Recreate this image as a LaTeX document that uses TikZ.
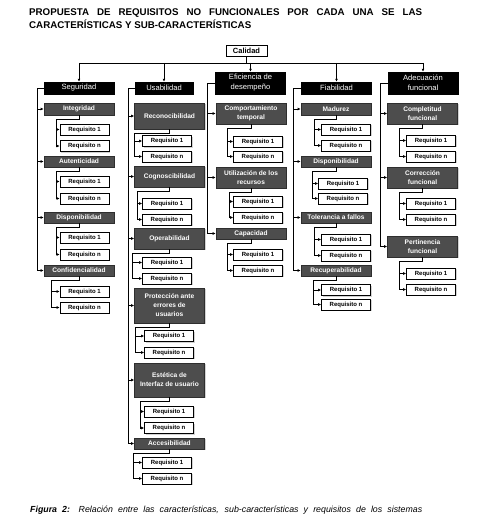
\documentclass[tikz,border=0pt]{standalone}
\usepackage{fontspec}
\setmainfont{Liberation Sans}
\usetikzlibrary{arrows.meta, shadows}
\definecolor{boxGray}{HTML}{4D4D4D}
\definecolor{boxEdge}{HTML}{2E2E2E}
\definecolor{shadowGray}{HTML}{A8A8A8}

\begin{document}
\begin{tikzpicture}[x=1pt, y=-1pt,
    titleText/.style={anchor=north west, inner sep=0pt, text width=393pt, align=justify, font=\fontsize{9.75}{13}\selectfont\bfseries},
    captionText/.style={anchor=base west, inner sep=0pt, font=\fontsize{8.8}{10}\selectfont\itshape},
    topBox/.style={draw=black, line width=0.7pt, rectangle, fill=white, font=\fontsize{7.5}{9}\selectfont\bfseries, inner sep=0pt, minimum width=41pt, minimum height=11pt, drop shadow={shadow xshift=1.2pt, shadow yshift=-1.2pt, fill=shadowGray}},
    catBox/.style={draw=black, rectangle, fill=black, text=white, align=center, font=\fontsize{7.6}{10}\selectfont, inner sep=0pt, minimum width=70pt, minimum height=12pt},
    subBox/.style={draw=boxEdge, line width=0.6pt, rectangle, fill=boxGray, text=white, align=center, font=\fontsize{6.6}{9}\selectfont\bfseries, inner sep=0pt, minimum width=70pt, minimum height=11pt, drop shadow={shadow xshift=1.3pt, shadow yshift=-1.3pt, fill=shadowGray}},
    reqBox/.style={draw=black, line width=0.6pt, rectangle, fill=white, font=\fontsize{6}{7}\selectfont\bfseries, inner sep=0pt, minimum width=49pt, minimum height=11pt, drop shadow={shadow xshift=1.2pt, shadow yshift=-1.2pt, fill=shadowGray}},
    trunk/.style={line width=0.7pt},
    link/.style={line width=0.7pt, -{Latex[length=3pt, width=2.8pt]}},
]
\useasboundingbox (0,0) rectangle (479,516);

\node[titleText] (title) at (29,8) {PROPUESTA DE REQUISITOS NO FUNCIONALES POR CADA UNA SE LAS\linebreak CARACTERÍSTICAS Y SUB-CARACTERÍSTICAS};

% nivel superior
\node[topBox] (calidad) at (246.5,50.5) {Calidad};

% caracteristicas
\node[catBox] (segur) at (79,88) {Seguridad};
\node[catBox, minimum width=58pt] (usabi) at (164,88) {Usabilidad};
\node[catBox, minimum height=22pt] (efici) at (250.5,83) {Eficiencia de\\desempeño};
\node[catBox] (fiabi) at (336.5,88) {Fiabilidad};
\node[catBox, minimum height=22pt] (adecu) at (423,83) {Adecuación\\funcional};

\coordinate (bus) at (246.5,63);
\draw[trunk] (calidad.south) -- (bus);
\draw[trunk] (bus -| segur.north) -- (bus -| adecu.north);
\foreach \c in {segur,usabi,efici,fiabi,adecu}
    \draw[link] (bus -| \c.north) -- (\c.north);

% sub-caracteristicas
\node[subBox, minimum height=12pt] (integ) at (79,109) {Integridad};
\node[subBox] (auten) at (79,161.5) {Autenticidad};
\node[subBox] (dispS) at (79,217.5) {Disponibilidad};
\node[subBox] (confi) at (79,270.5) {Confidencialidad};

\node[subBox, minimum height=26pt] (recon) at (169.5,116) {Reconocibilidad};
\node[subBox, minimum height=21pt] (cogno) at (169.5,176.5) {Cognoscibilidad};
\node[subBox, minimum height=21pt] (opera) at (169.5,238.5) {Operabilidad};
\node[subBox, minimum height=35pt] (prote) at (169.5,305.5) {Protección ante\\errores de\\usuarios};
\node[subBox, minimum height=34pt] (estet) at (169.5,380) {Estética de\\Interfaz de usuario};
\node[subBox] (acces) at (169.5,443.5) {Accesibilidad};

\node[subBox, minimum height=21pt] (compo) at (251,113.5) {Comportamiento\\temporal};
\node[subBox, minimum height=21pt] (utili) at (251,177.5) {Utilización de los\\recursos};
\node[subBox] (capac) at (251,233.5) {Capacidad};

\node[subBox, minimum height=12pt] (madur) at (336,109) {Madurez};
\node[subBox] (dispF) at (336,161.5) {Disponibilidad};
\node[subBox] (toler) at (336,217.5) {Tolerancia a fallos};
\node[subBox] (recup) at (336,270.5) {Recuperabilidad};

\node[subBox, minimum height=21pt] (compl) at (422.5,113.5) {Completitud\\funcional};
\node[subBox, minimum height=21pt] (corre) at (422.5,177.5) {Corrección\\funcional};
\node[subBox, minimum height=21pt] (perti) at (422.5,246.5) {Pertinencia\\funcional};

% troncos de cada caracteristica
\foreach \c/\tx/\last/\subs in {segur/37/confi/{integ,auten,dispS,confi},
                                usabi/128/acces/{recon,cogno,opera,prote,estet,acces},
                                efici/207/capac/{compo,utili,capac},
                                fiabi/293/recup/{madur,dispF,toler,recup},
                                adecu/380/perti/{compl,corre,perti}} {
    \coordinate (\c-t) at (\tx,0);
    \draw[trunk] (\c.west) -- (\c-t |- \c.west) -- (\c-t |- \last.west);
    \foreach \s in \subs
        \draw[link] (\c-t |- \s.west) -- (\s.west);
}

% requisitos
\foreach \s/\rx/\ya/\yb/\tx in {integ/84.5/129.5/146/56, auten/84.5/181.5/198.5/56,
                               dispS/84.5/237.5/254.5/56, confi/84.5/291.5/307.5/51,
                               recon/167/141/156.5/134, cogno/167/203.5/219.5/137,
                               opera/167/262.5/278.5/132, prote/169/336/352.5/135,
                               estet/169/411.5/428/140, acces/167/462.5/478.5/133,
                               compo/258/141.5/156.5/227, utili/258/201.5/217.5/229,
                               capac/258/254.5/270.5/227,
                               madur/346/129.5/145.5/314, dispF/343/183.5/198.5/312,
                               toler/346/239.5/255.5/314, recup/346/290/304.5/313,
                               compl/431/140.5/156.5/399, corre/431/203.5/219.5/399,
                               perti/431/273.5/289.5/399} {
    \node[reqBox] (\s-1) at (\rx,\ya) {Requisito 1};
    \node[reqBox] (\s-n) at (\rx,\yb) {Requisito n};
    \coordinate (\s-t) at (\tx,\ya);
    \draw[link] (\s.south) -- ++(0,4) -| (\s-t |- \s-n.west) -- (\s-n.west);
    \draw[link] (\s-t) -- (\s-1.west);
}

\node[captionText] (caption) at (30,512) {\makebox[392pt][s]{\textbf{Figura 2:} Relación entre las características, sub-características y requisitos de los sistemas}};
\end{tikzpicture}
\end{document}
